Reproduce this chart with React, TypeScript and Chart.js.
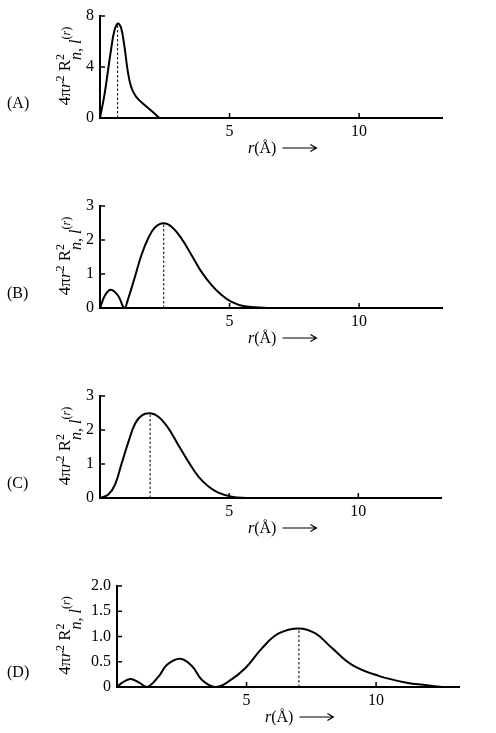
import { useEffect, useRef } from 'react';
import { Chart, registerables } from 'chart.js';

Chart.register(...registerables);

// radial distance r (Å) and 4πr²R²
const rA = [0, 0.17, 0.3, 0.43, 0.55, 0.68, 0.81, 0.94, 1.07, 1.2, 1.39, 1.71, 2.04, 2.29];
const pA = [0, 1.8, 3.6, 5.4, 6.8, 7.4, 7.1, 5.65, 3.7, 2.45, 1.68, 1.04, 0.47, 0];

const rB = [0, 0.2, 0.42, 0.7, 0.94, 1.09, 1.35, 1.6, 1.86, 2.12, 2.46, 2.76, 3.14, 3.53, 3.91, 4.3, 4.68, 5.06, 5.58, 6.47];
const pB = [0, 0.38, 0.535, 0.36, 0, 0.28, 0.92, 1.56, 2.05, 2.37, 2.49, 2.39, 2.05, 1.56, 1.07, 0.68, 0.39, 0.19, 0.05, 0];

const rC = [0, 0.32, 0.58, 0.84, 1.1, 1.36, 1.62, 1.94, 2.26, 2.65, 3.03, 3.42, 3.81, 4.2, 4.58, 5.1, 5.75];
const pC = [0, 0.1, 0.39, 1.02, 1.65, 2.19, 2.43, 2.49, 2.39, 2.05, 1.56, 1.07, 0.63, 0.34, 0.16, 0.04, 0];

const rD = [0, 0.19, 0.51, 0.84, 1.16, 1.61, 1.93, 2.44, 2.9, 3.28, 3.8, 4.31, 4.95, 5.6, 6.24, 7.02, 7.66, 8.3, 9.07, 10.1, 11.13, 12.03, 12.55];
const pD = [0, 0.08, 0.16, 0.09, 0, 0.21, 0.44, 0.56, 0.41, 0.14, 0, 0.11, 0.37, 0.77, 1.06, 1.16, 1.06, 0.77, 0.44, 0.22, 0.09, 0.03, 0];

// position of the dotted line under each maximum
const peakR = [0.68, 2.46, 1.94, 7.02];
const peakP = [7.4, 2.49, 2.49, 1.16];

const panelLabels = ['(A)', '(B)', '(C)', '(D)'];
const xTicks = [5, 10];
const yTicksA = [0, 4, 8];
const yTicksBC = [0, 1, 2, 3];
const yTicksD = [0, 0.5, 1, 1.5, 2];

const SERIF = '"Liberation Serif", "Times New Roman", serif';
const X_AXIS_H = 40;

type Seg = { t: string; size: number; italic?: boolean; dy?: number; noAdvance?: boolean };

const yTitle: Seg[] = [
  { t: '4π', size: 17 },
  { t: 'r', size: 17, italic: true },
  { t: '2', size: 12, dy: -6 },
  { t: ' ', size: 17 },
  { t: 'R', size: 17 },
  { t: '2', size: 12, dy: -6, noAdvance: true },
  { t: 'n, l', size: 16, italic: true, dy: 11 },
  { t: '(', size: 12 },
  { t: 'r', size: 12, italic: true },
  { t: ')', size: 12 },
];

function fontOf(s: Seg) {
  return `${s.italic ? 'italic ' : ''}${s.size}px ${SERIF}`;
}

const decor = {
  id: 'decor',
  afterDraw(chart: any, _args: any, opts: any) {
    const { ctx, chartArea: a, scales } = chart;
    ctx.save();
    ctx.fillStyle = '#000';
    ctx.strokeStyle = '#000';

    // inward tick marks
    ctx.lineWidth = 1.5;
    ctx.beginPath();
    for (const t of scales.x.ticks) {
      const px = scales.x.getPixelForValue(t.value);
      ctx.moveTo(px, a.bottom);
      ctx.lineTo(px, a.bottom - 5);
    }
    for (const t of scales.y.ticks) {
      if (t.value === 0) continue;
      const py = scales.y.getPixelForValue(t.value);
      ctx.moveTo(a.left, py);
      ctx.lineTo(a.left + 5, py);
    }
    ctx.stroke();

    // panel letter
    ctx.font = `16px ${SERIF}`;
    ctx.textBaseline = 'middle';
    ctx.textAlign = 'left';
    ctx.fillText(opts.label, 7, a.bottom - 14);

    // rotated y title
    ctx.textBaseline = 'alphabetic';
    let total = 0;
    for (const s of yTitle) {
      ctx.font = fontOf(s);
      if (!s.noAdvance) total += ctx.measureText(s.t).width;
    }
    ctx.save();
    ctx.translate(opts.titleX, (a.top + a.bottom) / 2 - 1);
    ctx.rotate(-Math.PI / 2);
    let x = -total / 2;
    for (const s of yTitle) {
      ctx.font = fontOf(s);
      ctx.fillText(s.t, x, s.dy || 0);
      if (!s.noAdvance) x += ctx.measureText(s.t).width;
    }
    ctx.restore();

    // x title with arrow
    const base = a.bottom + 35;
    let tx = a.left + 148;
    ctx.font = `italic 16px ${SERIF}`;
    ctx.fillText('r', tx, base);
    tx += ctx.measureText('r').width;
    ctx.font = `16px ${SERIF}`;
    ctx.fillText('(Å)', tx, base);
    tx += ctx.measureText('(Å)').width + 6;
    const ay = base - 5;
    const ax2 = tx + 34;
    ctx.lineWidth = 1.2;
    ctx.beginPath();
    ctx.moveTo(tx, ay);
    ctx.lineTo(ax2, ay);
    ctx.moveTo(ax2 - 6, ay - 3.5);
    ctx.lineTo(ax2, ay);
    ctx.lineTo(ax2 - 6, ay + 3.5);
    ctx.stroke();

    ctx.restore();
  },
};

interface PanelProps {
  label: string;
  rs: number[];
  ps: number[];
  pr: number;
  pp: number;
  yMax: number;
  yTicks: number[];
  left: number;
  right: number;
  top: number;
  height: number;
  areaBottom: number;
}

function Panel({ label, rs, ps, pr, pp, yMax, yTicks, left, right, top, height, areaBottom }: PanelProps) {
  const canvasRef = useRef<HTMLCanvasElement>(null);

  useEffect(() => {
    if (!canvasRef.current) return;
    const tickFont = { family: SERIF, size: 16 };
    const chart = new Chart(canvasRef.current, {
      type: 'line',
      data: {
        datasets: [
          {
            data: rs.map((r, i) => ({ x: r, y: ps[i] })),
            borderColor: '#000',
            borderWidth: 2,
            pointRadius: 0,
            tension: 0.4,
            fill: false,
          },
          {
            data: [
              { x: pr, y: 0 },
              { x: pr, y: pp },
            ],
            borderColor: '#000',
            borderWidth: 1,
            borderDash: [2.5, 2],
            pointRadius: 0,
            fill: false,
          },
        ],
      },
      plugins: [decor],
      options: {
        responsive: false,
        animation: false,
        events: [],
        layout: {
          padding: { left: 0, top: 16, right: 496 - right, bottom: height - areaBottom - X_AXIS_H },
        },
        plugins: {
          legend: { display: false },
          tooltip: { enabled: false },
          decor: { label, titleX: 70 },
        } as any,
        scales: {
          x: {
            type: 'linear',
            min: 0,
            max: 13.2,
            grid: { display: false, drawTicks: false },
            border: { display: true, color: '#000', width: 2 },
            ticks: { font: tickFont, color: '#000', padding: 4, maxRotation: 0, autoSkip: false },
            afterBuildTicks: (s: any) => {
              s.ticks = xTicks.map((v) => ({ value: v }));
            },
            afterFit: (s: any) => {
              s.height = X_AXIS_H;
            },
          },
          y: {
            type: 'linear',
            min: 0,
            max: yMax,
            grid: { display: false, drawTicks: false },
            border: { display: true, color: '#000', width: 2 },
            ticks: {
              font: tickFont,
              color: '#000',
              padding: 6,
              autoSkip: false,
              callback: (v: any) => (yMax === 2 && v !== 0 ? Number(v).toFixed(1) : String(v)),
            },
            afterBuildTicks: (s: any) => {
              s.ticks = yTicks.map((v) => ({ value: v }));
            },
            afterFit: (s: any) => {
              s.width = left;
            },
          },
        },
      },
    });
    return () => chart.destroy();
  }, []);

  return (
    <canvas
      ref={canvasRef}
      width={496}
      height={height}
      style={{ position: 'absolute', left: 0, top, width: 496, height }}
    />
  );
}

export default function App() {
  return (
    <div style={{ position: 'absolute', left: 0, top: 0, width: 496, height: 733, overflow: 'hidden', background: '#fff' }}>
      <Panel label={panelLabels[0]} rs={rA} ps={pA} pr={peakR[0]} pp={peakP[0]} yMax={8} yTicks={yTicksA}
        left={100} right={442} top={0} height={180} areaBottom={118} />
      <Panel label={panelLabels[1]} rs={rB} ps={pB} pr={peakR[1]} pp={peakP[1]} yMax={3} yTicks={yTicksBC}
        left={100} right={442} top={190} height={180} areaBottom={118} />
      <Panel label={panelLabels[2]} rs={rC} ps={pC} pr={peakR[2]} pp={peakP[2]} yMax={3} yTicks={yTicksBC}
        left={100} right={441} top={380} height={180} areaBottom={118} />
      <Panel label={panelLabels[3]} rs={rD} ps={pD} pr={peakR[3]} pp={peakP[3]} yMax={2} yTicks={yTicksD}
        left={117} right={459} top={570} height={163} areaBottom={117} />
    </div>
  );
}
